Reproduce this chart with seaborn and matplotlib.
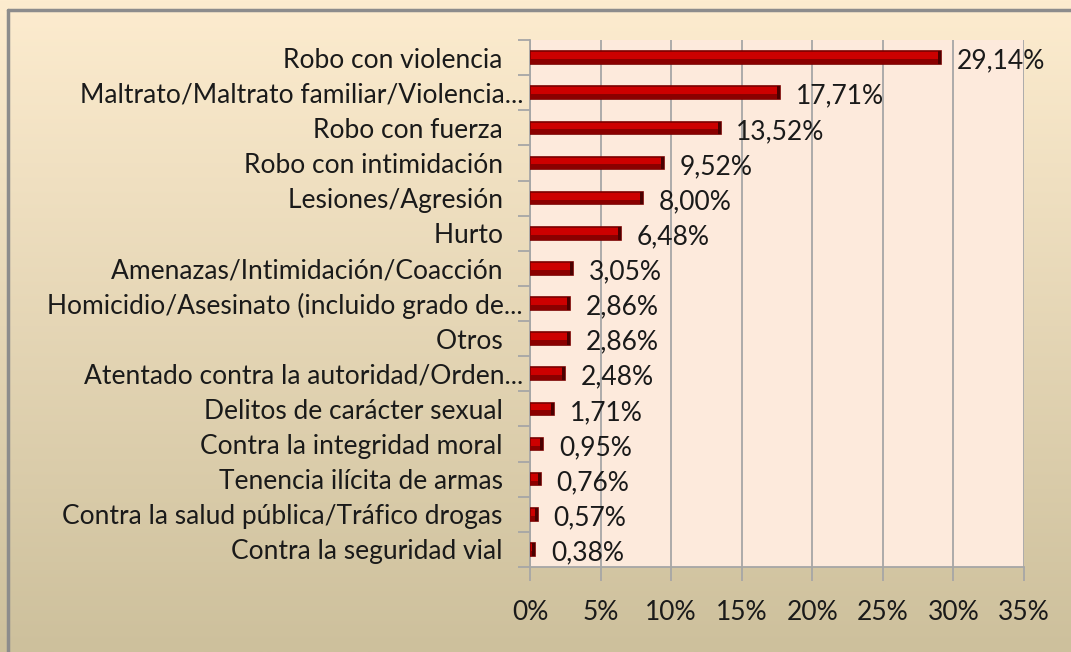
import numpy as np
import pandas as pd
import seaborn as sns
import matplotlib.pyplot as plt
from matplotlib.patches import Rectangle

categorias = [
    "Robo con violencia   ",
    "Maltrato/Maltrato familiar/Violencia...",
    "Robo con fuerza   ",
    "Robo con intimidación   ",
    "Lesiones/Agresión   ",
    "Hurto   ",
    "Amenazas/Intimidación/Coacción   ",
    "Homicidio/Asesinato (incluido grado de...",
    "Otros   ",
    "Atentado contra la autoridad/Orden...",
    "Delitos de carácter sexual   ",
    "Contra la integridad moral   ",
    "Tenencia ilícita de armas   ",
    "Contra la salud pública/Tráfico drogas   ",
    "Contra la seguridad vial   ",
]
porcentajes = [29.14, 17.71, 13.52, 9.52, 8.00, 6.48, 3.05, 2.86, 2.86,
               2.48, 1.71, 0.95, 0.76, 0.57, 0.38]
ticks_x = [0, 5, 10, 15, 20, 25, 30, 35]

df = pd.DataFrame({"cat": categorias, "pct": porcentajes})

sns.set_theme(style="white")
plt.rcParams["font.family"] = ["Lato", "DejaVu Sans"]

W, H = 1071, 652
fig = plt.figure(figsize=(W / 100, H / 100), dpi=100)

# fondo degradado de la figura
bg = fig.add_axes([0, 0, 1, 1], zorder=-10)
grad = np.linspace(0, 1, 256)[:, None, None]
top = np.array([253, 236, 207]) / 255
bot = np.array([205, 192, 156]) / 255
img = top + (bot - top) * grad
bg.imshow(img, aspect="auto", extent=[0, 1, 0, 1], origin="upper")
bg.plot([8 / W, 8 / W], [0, 1 - 10 / H], color="#8c8c8c", lw=2.5)
bg.plot([8 / W, 1], [1 - 10 / H, 1 - 10 / H], color="#8c8c8c", lw=2.5)
bg.set_xlim(0, 1)
bg.set_ylim(0, 1)
bg.axis("off")

x0, x1 = 530, 1024
y0, y1 = 567, 40
ax = fig.add_axes([x0 / W, 1 - y0 / H, (x1 - x0) / W, (y0 - y1) / H])
ax.set_facecolor("#fdeadc")

sns.barplot(data=df, x="pct", y="cat", ax=ax, color="#cc0000",
            edgecolor="#7a0000", linewidth=1.2, width=0.36, saturation=1,
            zorder=3)

# sombra inferior y extremo oscuro para imitar el relieve
for p in ax.patches:
    xb, yb = p.get_x(), p.get_y()
    w, h = p.get_width(), p.get_height()
    ax.add_patch(Rectangle((xb, yb + h * 0.62), w, h * 0.38,
                           facecolor="#8a0000", edgecolor="none", zorder=4))
    ax.add_patch(Rectangle((xb + w - 0.22, yb), 0.22, h,
                           facecolor="#4a0000", edgecolor="none", zorder=5))

for i, v in enumerate(porcentajes):
    ax.text(v + 1.1, i + 0.1, f"{v:.2f}%".replace(".", ","), va="center",
            ha="left", fontsize=19, color="#1a1a1a")

ax.set_xlim(0, 35)
ax.set_ylim(len(categorias) - 0.5, -0.5)
ax.set_xticks(ticks_x)
ax.set_xticklabels([f"{t}%" for t in ticks_x], fontsize=19, color="#1a1a1a")
ax.xaxis.grid(True, color="#a6a6a6", linewidth=1.3, zorder=0)
ax.set_axisbelow(True)
ax.tick_params(axis="x", length=10, width=1.3, color="#a6a6a6", pad=14,
               direction="out", bottom=True)
ax.set_yticks(range(len(categorias)))
ax.set_yticklabels(categorias, fontsize=19, color="#1a1a1a")
ax.tick_params(axis="y", length=0, pad=5)
ax.set_yticks(np.arange(-0.5, len(categorias), 1), minor=True)
ax.tick_params(axis="y", which="minor", length=9, width=1.3,
               color="#a6a6a6", direction="out", left=True)
ax.set_xlabel("")
ax.set_ylabel("")
for s in ["top", "right"]:
    ax.spines[s].set_visible(False)
for s in ["left", "bottom"]:
    ax.spines[s].set_color("#a6a6a6")
    ax.spines[s].set_linewidth(1.3)

fig.savefig("out.png", dpi=100)
